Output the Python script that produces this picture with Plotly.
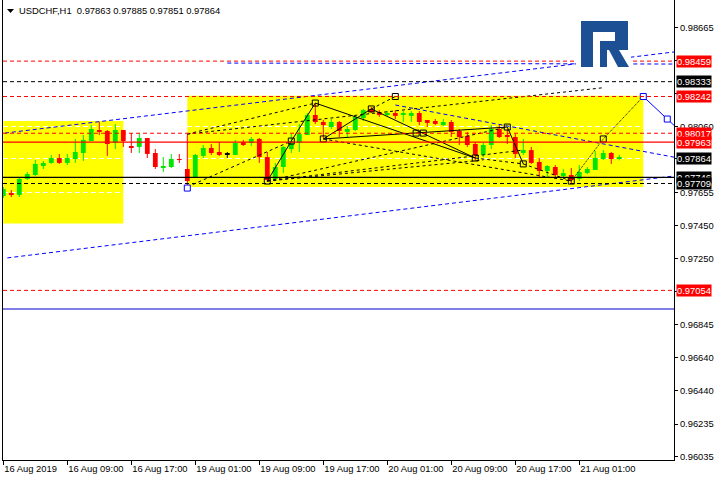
import plotly.graph_objects as go

# ---------------- data ----------------
tick_idx = [0, 8, 16, 24, 32, 40, 48, 56, 64, 72]
tick_text = ["16 Aug 2019", "16 Aug 09:00", "16 Aug 17:00", "19 Aug 01:00", "19 Aug 09:00",
             "19 Aug 17:00", "20 Aug 01:00", "20 Aug 09:00", "20 Aug 17:00", "21 Aug 01:00"]

price_ticks = [0.98665, 0.98460, 0.98260, 0.98060, 0.97865, 0.97655, 0.97450, 0.97250,
               0.97045, 0.96845, 0.96640, 0.96440, 0.96235, 0.96035]
hidden_tick_labels = [0.98460, 0.98260, 0.97865, 0.97045]

opens = [0.97632, 0.97651, 0.97639, 0.97737, 0.97761, 0.97816, 0.97835, 0.97865, 0.97835, 0.97859,
         0.97896, 0.97969, 0.98037, 0.98031, 0.97957, 0.98037, 0.97939, 0.97933, 0.97988, 0.97896,
         0.97810, 0.97810, 0.97859, 0.97798, 0.97749, 0.97878, 0.97927, 0.97902, 0.97890, 0.97884,
         0.97963, 0.97957, 0.97982, 0.97871, 0.97737, 0.97810, 0.97920, 0.97957, 0.98006, 0.98129,
         0.98086, 0.98055, 0.98086, 0.98025, 0.98037, 0.98110, 0.98166, 0.98147, 0.98129, 0.98141,
         0.98129, 0.98123, 0.98141, 0.98098, 0.98092, 0.98067, 0.98086, 0.98031, 0.98000, 0.97951,
         0.97884, 0.97945, 0.98043, 0.98006, 0.97994, 0.97896, 0.97914, 0.97841, 0.97786, 0.97810,
         0.97761, 0.97761, 0.97737, 0.97773, 0.97792, 0.97859, 0.97896, 0.97863]
highs = [0.97688, 0.97669, 0.97749, 0.97780, 0.97853, 0.97847, 0.97884, 0.97890, 0.97890, 0.97982,
         0.98006, 0.98067, 0.98086, 0.98037, 0.98074, 0.98037, 0.98018, 0.98018, 0.97988, 0.97920,
         0.97871, 0.97890, 0.97890, 0.98012, 0.97890, 0.97945, 0.97951, 0.97963, 0.97902, 0.97976,
         0.97976, 0.97994, 0.97988, 0.97902, 0.97835, 0.97939, 0.98012, 0.98074, 0.98141, 0.98202,
         0.98098, 0.98104, 0.98092, 0.98061, 0.98129, 0.98166, 0.98178, 0.98159, 0.98153, 0.98159,
         0.98153, 0.98153, 0.98153, 0.98098, 0.98104, 0.98104, 0.98098, 0.98043, 0.98025, 0.97963,
         0.97957, 0.98067, 0.98067, 0.98043, 0.98012, 0.97982, 0.97933, 0.97865, 0.97822, 0.97822,
         0.97798, 0.97804, 0.97822, 0.97810, 0.97908, 0.97914, 0.97902, 0.97885]
lows = [0.97620, 0.97626, 0.97626, 0.97730, 0.97755, 0.97798, 0.97829, 0.97829, 0.97822, 0.97835,
        0.97847, 0.97969, 0.98006, 0.97878, 0.97920, 0.97933, 0.97896, 0.97896, 0.97865, 0.97798,
        0.97779, 0.97804, 0.97835, 0.97688, 0.97749, 0.97865, 0.97884, 0.97878, 0.97865, 0.97884,
        0.97939, 0.97939, 0.97835, 0.97718, 0.97730, 0.97773, 0.97896, 0.97902, 0.98006, 0.98074,
        0.97988, 0.98043, 0.97994, 0.97994, 0.98031, 0.98092, 0.98141, 0.98117, 0.98117, 0.98104,
        0.98086, 0.98086, 0.98067, 0.98055, 0.98067, 0.98061, 0.97994, 0.97945, 0.97933, 0.97847,
        0.97871, 0.97920, 0.97988, 0.97951, 0.97865, 0.97884, 0.97829, 0.97749, 0.97749, 0.97749,
        0.97749, 0.97712, 0.97724, 0.97767, 0.97792, 0.97853, 0.97829, 0.97851]
closes = [0.97675, 0.97639, 0.97737, 0.97767, 0.97829, 0.97835, 0.97865, 0.97835, 0.97865, 0.97902,
          0.97976, 0.98043, 0.98025, 0.97951, 0.98037, 0.97969, 0.97927, 0.97988, 0.97890, 0.97810,
          0.97816, 0.97859, 0.97853, 0.97724, 0.97884, 0.97927, 0.97896, 0.97884, 0.97890, 0.97957,
          0.97945, 0.97982, 0.97871, 0.97730, 0.97810, 0.97933, 0.97969, 0.98012, 0.98129, 0.98086,
          0.98067, 0.98086, 0.98031, 0.98043, 0.98117, 0.98159, 0.98147, 0.98129, 0.98141, 0.98123,
          0.98135, 0.98141, 0.98086, 0.98080, 0.98074, 0.98086, 0.98025, 0.97994, 0.97945, 0.97884,
          0.97945, 0.98043, 0.97994, 0.97994, 0.97890, 0.97914, 0.97835, 0.97786, 0.97816, 0.97761,
          0.97773, 0.97730, 0.97780, 0.97798, 0.97865, 0.97896, 0.97859, 0.97864]

# horizontal levels
red_dashed_levels = [0.98459, 0.98242, 0.98017, 0.97054]
red_solid_levels = [0.97963]
black_dashed_levels = [0.98333, 0.97709]
black_solid_levels = [0.97746]
blue_solid_levels = [0.96940]

red_boxes = [0.98459, 0.98242, 0.98017, 0.97963, 0.97054]
black_boxes = [0.98333, 0.97864, 0.97746, 0.97709]

# yellow rectangles (bar index from/to, price top/bottom)
rect_from = [0, 23]
rect_to = [15, 80]
rect_top = [0.98092, 0.98246]
rect_bottom = [0.97464, 0.97688]

# wave analysis lines (bar index, price)
wave_a_x, wave_a_y = [33, 36, 39], [0.97724, 0.97969, 0.98202]
wave_b_x, wave_b_y = [39, 59], [0.98202, 0.97865]
wave_c_x, wave_c_y = [40, 52, 63], [0.97982, 0.98018, 0.98055]
wave_d_x, wave_d_y = [40, 46], [0.97982, 0.98166]
wave_e_x, wave_e_y = [46, 59], [0.98166, 0.97865]
wave_f_x, wave_f_y = [63, 65], [0.98055, 0.97829]

fan_1_x, fan_1_y = [23, 75], [0.98012, 0.98296]
fan_2_x, fan_2_y = [23, 39], [0.98012, 0.98202]
fan_3_x, fan_3_y = [23, 36], [0.97688, 0.97969]
fan_4_x, fan_4_y = [46, 49], [0.98166, 0.98242]
fan_5_x, fan_5_y = [33, 63], [0.97724, 0.98055]
fan_6_x, fan_6_y = [33, 65], [0.97724, 0.97914]
fan_7_x, fan_7_y = [33, 60], [0.97724, 0.97853]
fan_8_x, fan_8_y = [40, 71], [0.97982, 0.97724]
fan_9_x, fan_9_y = [65, 71], [0.97829, 0.97724]
fan_10_x, fan_10_y = [59, 65], [0.97865, 0.97829]

forecast_x, forecast_y = [71, 75, 80], [0.97724, 0.97982, 0.98242]
projection_x, projection_y = [80, 83, 84], [0.98242, 0.98104, 0.98058]

channel_1_x, channel_1_y = [0.2, 84], [0.98018, 0.98516]
channel_2_x, channel_2_y = [28, 84], [0.98447, 0.98441]
channel_3_x, channel_3_y = [49, 84], [0.98190, 0.97869]
channel_4_x, channel_4_y = [0.5, 84], [0.97253, 0.97756]

point_x = [33, 36, 39, 40, 46, 49, 51.6, 52.5, 59, 63, 65, 71, 75]
point_y = [0.97724, 0.97969, 0.98202, 0.97982, 0.98166, 0.98242, 0.98018, 0.98018,
           0.97865, 0.98055, 0.97829, 0.97724, 0.97982]
blue_point_x = [23, 80, 83]
blue_point_y = [0.97681, 0.98242, 0.98104]

header = "USDCHF,H1  0.97863 0.97885 0.97851 0.97864"

# ---------------- styling ----------------
FONT = "Liberation Sans, Arial, sans-serif"
GREEN = "#00e600"
RED = "#ff0000"
L_MARGIN, R_MARGIN, T_MARGIN, B_MARGIN = 3, 46, 0, 20
W, H = 720, 480
PW, PH = W - L_MARGIN - R_MARGIN, H - T_MARGIN - B_MARGIN


def px(x):
    return (x - L_MARGIN) / PW


def py(y):
    return 1 - (y - T_MARGIN) / PH


n = len(opens)
cols = []
for o, c in zip(opens, closes):
    cols.append(GREEN if c > o else (RED if c < o else "black"))

hmin = 0.00005
bases, heights = [], []
for o, c in zip(opens, closes):
    h = abs(c - o)
    if h < hmin:
        bases.append((o + c) / 2 - hmin / 2)
        heights.append(hmin)
    else:
        bases.append(min(o, c))
        heights.append(h)

fig = go.Figure()

# wicks
for colr in [GREEN, RED, "black"]:
    xs, ys = [], []
    for i in range(n):
        if cols[i] == colr:
            xs += [i, i, None]
            ys += [lows[i], highs[i], None]
    fig.add_trace(go.Scatter(x=xs, y=ys, mode="lines", line=dict(color=colr, width=1),
                             hoverinfo="skip"))

fig.add_trace(go.Bar(x=list(range(n)), y=heights, base=bases, width=0.6,
                     marker=dict(color=cols, line=dict(width=0)), hoverinfo="skip"))


def add_line(xs, ys, color="black", dash="solid", width=1):
    fig.add_trace(go.Scatter(x=xs, y=ys, mode="lines",
                             line=dict(color=color, width=width, dash=dash),
                             hoverinfo="skip"))


DASH = "4px,3px"
for xs, ys in [(wave_a_x, wave_a_y), (wave_b_x, wave_b_y), (wave_c_x, wave_c_y),
               (wave_d_x, wave_d_y), (wave_e_x, wave_e_y), (wave_f_x, wave_f_y)]:
    add_line(xs, ys, "black", "solid", 1)
for xs, ys in [(fan_1_x, fan_1_y), (fan_2_x, fan_2_y), (fan_3_x, fan_3_y), (fan_4_x, fan_4_y),
               (fan_5_x, fan_5_y), (fan_6_x, fan_6_y), (fan_7_x, fan_7_y), (fan_8_x, fan_8_y),
               (fan_9_x, fan_9_y), (fan_10_x, fan_10_y)]:
    add_line(xs, ys, "black", "3px,3px", 1)
add_line(forecast_x, forecast_y, "black", "1px,1px", 1)
add_line(projection_x, projection_y, "#0000ff", "solid", 1)
for xs, ys in [(channel_1_x, channel_1_y), (channel_2_x, channel_2_y),
               (channel_3_x, channel_3_y), (channel_4_x, channel_4_y)]:
    add_line(xs, ys, "#0000ff", DASH, 1)

fig.add_trace(go.Scatter(x=point_x, y=point_y, mode="markers",
                         marker=dict(symbol="square", size=6, color="rgba(0,0,0,0)",
                                     line=dict(color="black", width=1)), hoverinfo="skip"))
fig.add_trace(go.Scatter(x=blue_point_x, y=blue_point_y, mode="markers",
                         marker=dict(symbol="square", size=6, color="white",
                                     line=dict(color="#0000ff", width=1)), hoverinfo="skip"))

# rectangles (below grid)
for x0, x1, t, b in zip(rect_from, rect_to, rect_top, rect_bottom):
    fig.add_shape(type="rect", xref="x", yref="y", x0=x0, x1=x1, y0=b, y1=t,
                  fillcolor="#ffff00", line=dict(width=0), layer="below")

# horizontal levels
for lv in red_dashed_levels:
    fig.add_shape(type="line", xref="paper", yref="y", x0=0, x1=1, y0=lv, y1=lv,
                  line=dict(color=RED, width=1, dash=DASH))
for lv in red_solid_levels:
    fig.add_shape(type="line", xref="paper", yref="y", x0=0, x1=1, y0=lv, y1=lv,
                  line=dict(color=RED, width=1.2))
for lv in black_dashed_levels:
    fig.add_shape(type="line", xref="paper", yref="y", x0=0, x1=1, y0=lv, y1=lv,
                  line=dict(color="black", width=1, dash=DASH))
for lv in black_solid_levels:
    fig.add_shape(type="line", xref="paper", yref="y", x0=0, x1=1, y0=lv, y1=lv,
                  line=dict(color="black", width=1.2))
for lv in blue_solid_levels:
    fig.add_shape(type="line", xref="paper", yref="y", x0=0, x1=1, y0=lv, y1=lv,
                  line=dict(color="#0000cc", width=1.2))

# logo (white backing + blue R)
fig.add_shape(type="rect", xref="paper", yref="paper", x0=px(576), x1=px(631), y0=py(70), y1=py(18),
              fillcolor="white", line=dict(width=0))


def path(pts):
    return "M " + " L ".join(f"{px(a):.5f},{py(b):.5f}" for a, b in pts) + " Z"


LOGO = "#1d4f94"
fig.add_shape(type="path", xref="paper", yref="paper",
              path=path([(581, 21), (628, 21), (628, 50), (600, 50), (600, 41), (615, 41), (615, 32),
                         (593, 32), (593, 67), (581, 67)]),
              fillcolor=LOGO, line=dict(width=0))
fig.add_shape(type="path", xref="paper", yref="paper",
              path=path([(600, 50), (607, 50), (607, 67), (600, 67)]),
              fillcolor=LOGO, line=dict(width=0))
fig.add_shape(type="path", xref="paper", yref="paper",
              path=path([(609, 50), (619, 50), (629, 67), (618, 67)]),
              fillcolor=LOGO, line=dict(width=0))

# header triangle + text
fig.add_shape(type="path", xref="paper", yref="paper",
              path=path([(7, 9), (14, 9), (10.5, 13)]), fillcolor="black", line=dict(width=0))
fig.add_annotation(x=px(17), y=py(11), xref="paper", yref="paper", text=header, showarrow=False,
                   xanchor="left", yanchor="middle", font=dict(family=FONT, size=9.4, color="black"))

# price boxes
for p in [0.98459, 0.98333, 0.98242, 0.98017, 0.97963, 0.97864, 0.97746, 0.97709, 0.97054]:
    bg = RED if p in red_boxes else "black"
    fig.add_annotation(x=1, xref="paper", y=p, yref="y", text=f"{p:.5f}", showarrow=False,
                       xanchor="left", yanchor="middle", xshift=2, bgcolor=bg, borderpad=0,
                       font=dict(family=FONT, size=9.4, color="white"))

fig.update_layout(
    width=W, height=H, margin=dict(l=L_MARGIN, r=R_MARGIN, t=T_MARGIN, b=B_MARGIN, autoexpand=False),
    plot_bgcolor="white", paper_bgcolor="white", showlegend=False, barmode="overlay",
    xaxis=dict(range=[-0.04, 83.84], tickvals=tick_idx, ticktext=tick_text, ticks="outside",
               ticklen=4, tickcolor="black", showline=True, linecolor="black", linewidth=1,
               showgrid=False, zeroline=False, ticklabelposition="outside right", tickangle=0,
               automargin=False,
               tickfont=dict(family=FONT, size=9.4, color="black"), fixedrange=True),
    yaxis=dict(side="right", range=[0.960146, 0.988335], tickvals=price_ticks,
               ticktext=["" if v in hidden_tick_labels else f"{v:.5f}" for v in price_ticks],
               ticks="outside", ticklen=3, automargin=False,
               tickcolor="black", showline=True, linecolor="black", linewidth=1, mirror=True,
               showgrid=True, gridcolor="white", griddash="5px,3px", gridwidth=1,
               zeroline=False, tickfont=dict(family=FONT, size=9.4, color="black"),
               fixedrange=True),
)

fig.write_html("out.html", config={"displayModeBar": False},
               post_script="document.body.style.margin='0';document.body.style.overflow='hidden';")
